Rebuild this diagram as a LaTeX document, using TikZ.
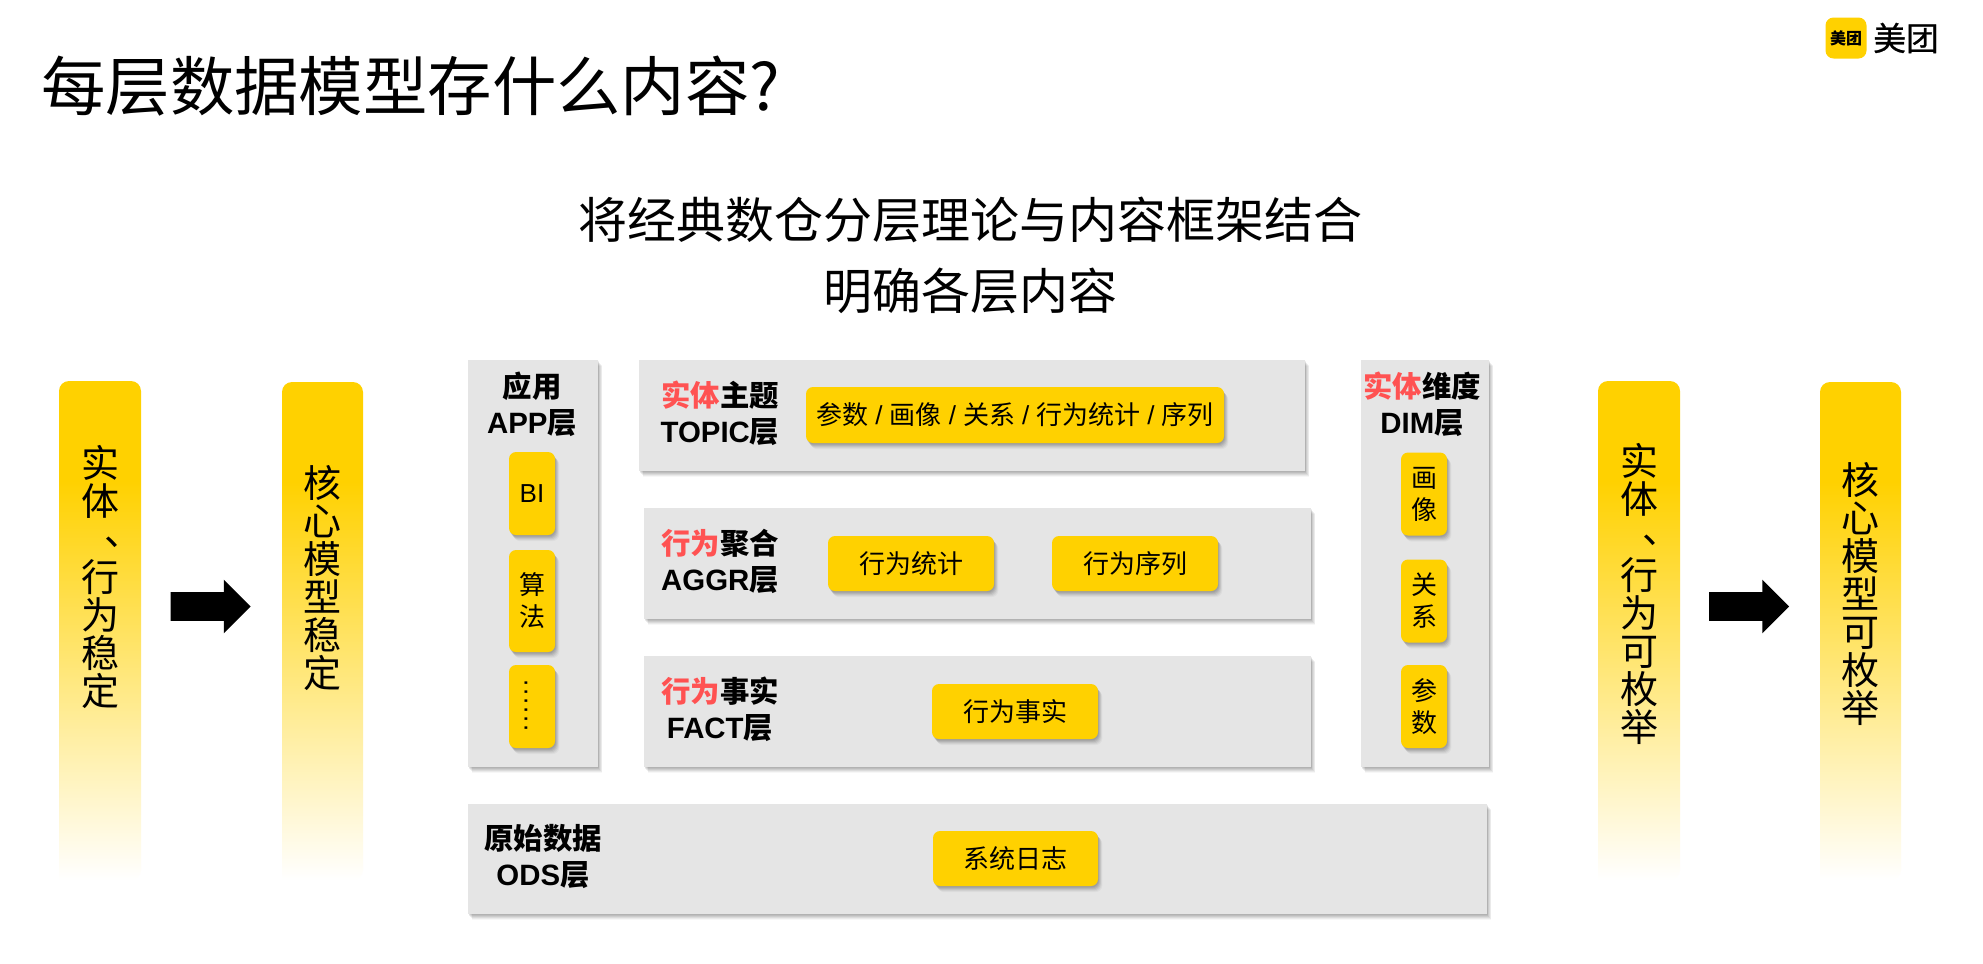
\documentclass[tikz,border=0pt]{standalone}
\usepackage{fontspec}
\setmainfont{Noto Sans CJK SC}
\newfontfamily\lf{Liberation Sans}
\newfontfamily\logof[FakeBold=0.8]{Noto Sans CJK SC}
\usetikzlibrary{shadows,shapes.arrows,backgrounds}
\definecolor{my}{HTML}{FFD100}
\definecolor{pg}{HTML}{E5E5E5}
\definecolor{myred}{HTML}{FF5252}
\pgfdeclareverticalshading{barfade}{100bp}{color(0bp)=(white); color(25bp)=(white); color(65bp)=(my); color(100bp)=(my)}
\newcommand{\rd}[1]{\textcolor{myred}{#1}}
\newcommand{\lb}[1]{{\lf\bfseries #1}}
\newcommand{\sla}{\hspace{.6pt} {\lf /} \hspace{.6pt}}
\newcommand{\dun}{\makebox[1em][l]{\hspace*{.6em}\raisebox{.2em}{、}}}
\newcommand{\gbar}[3]{\path[shading=barfade,rounded corners=5pt] (#1,880) -- (#1,#3) -- (#2,#3) -- (#2,880) [sharp corners] -- cycle;}
\tikzset{
  softshadow/.style={
    general shadow={shadow xshift=.3pt,shadow yshift=-.6pt,fill=black,opacity=.06},
    general shadow={shadow xshift=.6pt,shadow yshift=-1.1pt,fill=black,opacity=.07},
    general shadow={shadow xshift=1pt,shadow yshift=-1.6pt,fill=black,opacity=.07},
    general shadow={shadow xshift=1.4pt,shadow yshift=-2.1pt,fill=black,opacity=.06},
    general shadow={shadow xshift=1.8pt,shadow yshift=-2.6pt,fill=black,opacity=.05},
    general shadow={shadow xshift=2.2pt,shadow yshift=-3.1pt,fill=black,opacity=.03}},
  panel/.style={softshadow,fill=pg,inner sep=0pt,minimum width=#1*0.5pt},
  ph/.style={minimum height=#1*0.5pt},
  chip/.style={softshadow,fill=my,rounded corners=3.5pt,inner sep=0pt,align=center,
    font=\fontsize{13pt}{16pt}\selectfont,minimum width=#1*0.5pt},
  head/.style={font=\fontsize{14.7pt}{18pt}\selectfont\bfseries,align=center,inner sep=0pt},
  side/.style={font=\fontsize{19pt}{19pt}\selectfont,align=center,inner sep=0pt},
  blockarrow/.style={single arrow,fill=black,inner xsep=0pt,inner ysep=7pt,text height=0pt,text depth=0pt,text width=0pt,
    minimum height=40pt,minimum width=26.5pt,
    single arrow head extend=6.25pt,single arrow tip angle=90},
}
\begin{document}
\begin{tikzpicture}[x=0.5pt,y=-0.5pt]
\useasboundingbox (0,0) rectangle (1983,964);
\fill[white] (0,0) rectangle (1983,964);
% title
\node[anchor=west,inner sep=0pt,font=\fontsize{32.2pt}{32.2pt}\selectfont] (title) at (41,86) {每层数据模型存什么内容?};
\node[align=center,inner sep=0pt,font=\fontsize{24.5pt}{35.5pt}\selectfont] (subtitle) at (970,255) {将经典数仓分层理论与内容框架结合\\明确各层内容};
% logo
\node[fill=my,rounded corners=4pt,minimum width=20.5pt,minimum height=20.5pt,inner sep=0pt,font=\fontsize{8pt}{8pt}\selectfont\bfseries] (logoicon) at (1846,38) {美团};
\node[inner sep=0pt,font=\fontsize{16.4pt}{16.4pt}\logof] (logotext) at (1906,38) {美团};
% gradient bars
\gbar{59}{141}{381}
\gbar{282}{363}{382}
\gbar{1598}{1680}{381}
\gbar{1820}{1901}{382}
\node[side] (b1) at (100.5,576.5) {实\\体\\\dun\\行\\为\\稳\\定};
\node[side] (b2) at (322.5,578) {核\\心\\模\\型\\稳\\定};
\node[side] (b3) at (1639,594) {实\\体\\\dun\\行\\为\\可\\枚\\举};
\node[side] (b4) at (1860,594) {核\\心\\模\\型\\可\\枚\\举};
\node[blockarrow] (arrowl) at (203.5,606.5) {};
\node[blockarrow] (arrowr) at (1742,606.5) {};
% panels
\node[panel=130,ph=407] (app) at (533,563.5) {};
\node[panel=666,ph=111] (topic) at (972,415.5) {};
\node[panel=667,ph=111] (aggr) at (977.5,563.5) {};
\node[panel=667,ph=111] (fact) at (977.5,711.5) {};
\node[panel=128,ph=407] (dim) at (1425,563.5) {};
\node[panel=1019,ph=110] (ods) at (977.5,859) {};
% panel labels
\node[head] (lapp) at (532,404) {应用\\\lb{APP}层};
\node[head] (ltopic) at (720,413) {\rd{实体}主题\\\lb{TOPIC}层};
\node[head] (laggr) at (720,561) {\rd{行为}聚合\\\lb{AGGR}层};
\node[head] (lfact) at (720,709) {\rd{行为}事实\\\lb{FACT}层};
\node[head] (ldim) at (1422,404) {\rd{实体}维度\\\lb{DIM}层};
\node[head] (lods) at (543,856.5) {原始数据\\\lb{ODS}层};
% chips
\node[chip=418,ph=56] (c1) at (1015,415) {参数\sla 画像\sla 关系\sla 行为统计\sla 序列};
\node[chip=166,ph=55] (c2) at (911,563.5) {行为统计};
\node[chip=166,ph=55] (c3) at (1135,563.5) {行为序列};
\node[chip=166,ph=55] (c4) at (1015,711.5) {行为事实};
\node[chip=165,ph=55] (c5) at (1015.5,858.5) {系统日志};
\node[chip=46,ph=83] (a1) at (532,493.5) {\lf BI};
\node[chip=46,ph=102] (a2) at (532,601) {算\\法};
\node[chip=46,ph=83] (a3) at (532,706.5) {};
\node[inner sep=0pt,rotate=-90,font=\fontsize{13pt}{13pt}\selectfont\lf] (dots) at (526,706) {\makebox[4.5pt]{.}\makebox[4.5pt]{.}\makebox[4.5pt]{.}\makebox[4.5pt]{.}\makebox[4.5pt]{.}\makebox[4.5pt]{.}};
\node[chip=46,ph=83] (d1) at (1424,494) {画\\像};
\node[chip=46,ph=83] (d2) at (1424,601) {关\\系};
\node[chip=46,ph=83] (d3) at (1424,706.5) {参\\数};
\end{tikzpicture}
\end{document}
